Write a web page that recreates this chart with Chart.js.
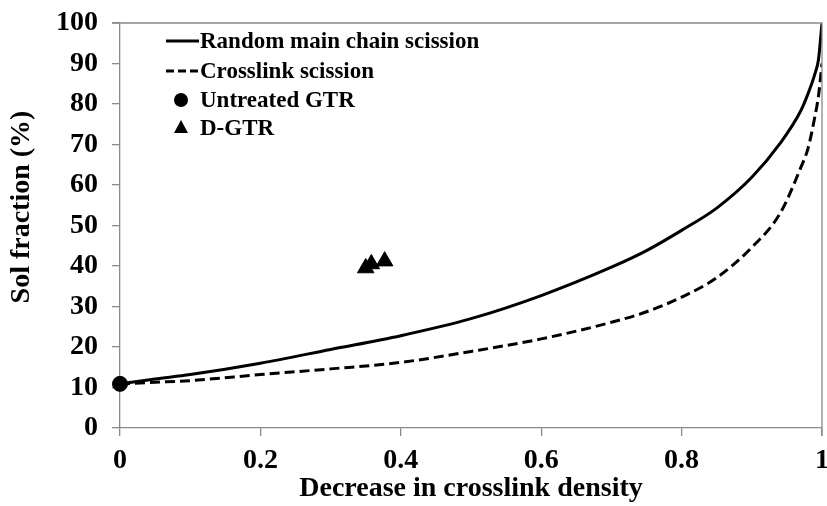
<!DOCTYPE html>
<html>
<head>
<meta charset="utf-8">
<script src="https://cdn.jsdelivr.net/npm/chart.js@4/dist/chart.umd.min.js"></script>
<style>
  html, body { margin: 0; padding: 0; background: #fff; }
  #wrap { width: 827px; height: 506px; }
</style>
</head>
<body>
<div id="wrap"><canvas id="c" width="827" height="506"></canvas></div>
<script>
// values
const curveX      = [0, 0.05, 0.1, 0.2, 0.3, 0.4, 0.5, 0.6, 0.7, 0.75, 0.8, 0.85, 0.9, 0.94, 0.97, 0.98, 0.99, 0.995, 1]
const randomScis  = [10.9, 12.1, 13.2, 16.0, 19.4, 22.8, 27.0, 32.7, 39.7, 43.8, 48.8, 54.3, 61.9, 70.2, 78.4, 82.5, 87.5, 91.0, 100]
const crossScis   = [10.9, 11.3, 11.7, 13.2, 14.6, 16.2, 18.9, 22.0, 26.1, 28.7, 32.3, 37.1, 44.6, 52.9, 64.4, 69.0, 77.0, 82.0, 90.0]
const untreatedX  = [0]
const untreatedY  = [10.9]
const dgtrX       = [0.35, 0.358, 0.377]
const dgtrY       = [39.5, 40.5, 41.2]

const legendNames = ["Random main chain scission", "Crosslink scission", "Untreated GTR", "D-GTR"]
const xTitle = "Decrease in crosslink density"
const yTitle = "Sol fraction (%)"

const FONT = "'Liberation Serif', 'Times New Roman', serif"
const AXIS = "#8a8a8a"

function pts(xs, ys) {
    return xs.map((x, i) => ({ x: x, y: ys[i] }))
}

// the "1" label may hang off the right edge like in the original
function noPadding(s) {
    s.paddingLeft = 0
    s.paddingRight = 0
    s.paddingTop = 0
    s.paddingBottom = 0
}

// box around the plot, the y title and the little legend in the top left
const framePlugin = {
    id: "frame",
    afterDatasetsDraw(chart) {
        const ctx = chart.ctx
        const a = chart.chartArea
        ctx.save()
        ctx.strokeStyle = AXIS
        ctx.lineWidth = 1.3
        ctx.beginPath()
        ctx.moveTo(a.left - 8, a.top)
        ctx.lineTo(a.right, a.top)
        ctx.lineTo(a.right, a.bottom + 8)
        ctx.stroke()

        // y axis title, sits a bit above the middle in the original
        ctx.save()
        ctx.translate(22, 207)
        ctx.rotate(-Math.PI / 2)
        ctx.font = "bold 28px " + FONT
        ctx.fillStyle = "#000"
        ctx.textAlign = "center"
        ctx.textBaseline = "middle"
        ctx.fillText(yTitle, 0, 0)
        ctx.restore()

        const x0 = 166, x1 = 199, rowY = [41, 71, 100, 128]
        ctx.fillStyle = "#000"
        ctx.strokeStyle = "#000"
        ctx.lineWidth = 3
        ctx.beginPath(); ctx.moveTo(x0, rowY[0]); ctx.lineTo(x1, rowY[0]); ctx.stroke()
        ctx.setLineDash([8, 4])
        ctx.beginPath(); ctx.moveTo(x0, rowY[1]); ctx.lineTo(x1, rowY[1]); ctx.stroke()
        ctx.setLineDash([])
        ctx.beginPath(); ctx.arc(181, rowY[2], 7, 0, Math.PI * 2); ctx.fill()
        ctx.beginPath()
        ctx.moveTo(181, rowY[3] - 8); ctx.lineTo(188, rowY[3] + 5); ctx.lineTo(174, rowY[3] + 5)
        ctx.closePath(); ctx.fill()

        ctx.font = "bold 23px " + FONT
        ctx.textBaseline = "middle"
        ctx.textAlign = "left"
        legendNames.forEach((t, i) => {
            ctx.fillText(t, 200, rowY[i] + 1)
        })
        ctx.restore()
    }
}

new Chart(document.getElementById("c"), {
    type: "scatter",
    data: {
        datasets: [
            {
                label: legendNames[0],
                data: pts(curveX, randomScis),
                showLine: true,
                borderColor: "#000",
                borderWidth: 3,
                pointRadius: 0,
                cubicInterpolationMode: "monotone"
            },
            {
                label: legendNames[1],
                data: pts(curveX, crossScis),
                showLine: true,
                borderColor: "#000",
                borderWidth: 3,
                borderDash: [10, 5],
                pointRadius: 0,
                cubicInterpolationMode: "monotone"
            },
            {
                label: legendNames[2],
                data: pts(untreatedX, untreatedY),
                pointStyle: "circle",
                pointRadius: 7.5,
                backgroundColor: "#000",
                borderColor: "#000",
                clip: false
            },
            {
                label: legendNames[3],
                data: pts(dgtrX, dgtrY),
                pointStyle: "triangle",
                pointRadius: 9.5,
                backgroundColor: "#000",
                borderColor: "#000",
                borderWidth: 1
            }
        ]
    },
    options: {
        responsive: false,
        animation: false,
        layout: { autoPadding: false, padding: { top: 23, right: 5, left: 0, bottom: 0 } },
        plugins: {
            legend: { display: false },
            tooltip: { enabled: false }
        },
        scales: {
            x: {
                type: "linear",
                min: 0,
                max: 1,
                ticks: {
                    stepSize: 0.2,
                    padding: 8,
                    color: "#000",
                    font: { family: FONT, size: 28, weight: "bold" },
                    callback: v => String(+v.toFixed(1))
                },
                grid: { drawOnChartArea: false, drawTicks: true, tickLength: 8, color: AXIS, lineWidth: 1.3 },
                border: { color: AXIS, width: 1.3 },
                title: {
                    display: true,
                    text: xTitle,
                    color: "#000",
                    font: { family: FONT, size: 28, weight: "bold" },
                    padding: { top: 0, bottom: 0 }
                },
                afterFit: s => {
                    s.height = 78
                    noPadding(s)
                }
            },
            y: {
                min: 0,
                max: 100,
                ticks: {
                    stepSize: 10,
                    padding: 14,
                    color: "#000",
                    font: { family: FONT, size: 28, weight: "bold" }
                },
                grid: { drawOnChartArea: false, drawTicks: true, tickLength: 8, color: AXIS, lineWidth: 1.3 },
                border: { color: AXIS, width: 1.3 },
                afterFit: s => {
                    s.width = 120
                    noPadding(s)
                }
            }
        }
    },
    plugins: [framePlugin]
})
</script>
</body>
</html>
